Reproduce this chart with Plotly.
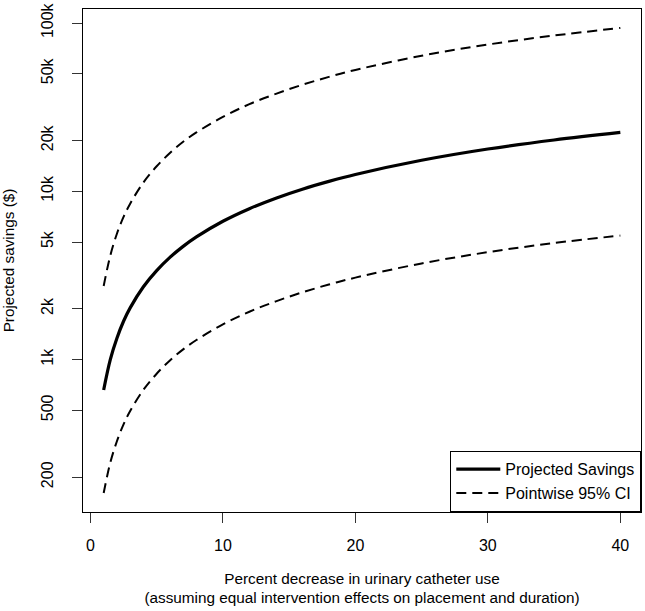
import plotly.graph_objects as go

# Percent decrease in urinary catheter use
pct = [1, 1.5, 2, 2.5, 3, 4, 5, 6, 7, 8, 10, 12, 14, 16, 18, 20, 25, 30, 35, 40]
# Projected savings ($)
savings = [660, 1000, 1340, 1690, 2030, 2710, 3380, 4050, 4710, 5360, 6640, 7890,
           9110, 10300, 11460, 12600, 15300, 17850, 20200, 22400]
# Pointwise 95% CI
ci_upper = [2740, 4150, 5600, 7050, 8450, 11300, 14100, 16900, 19700, 22400, 27700,
            33000, 38000, 43000, 47900, 52700, 64000, 74600, 84400, 93600]
ci_lower = [161, 244, 327, 412, 495, 661, 824, 988, 1150, 1307, 1620, 1925, 2220,
            2510, 2795, 3070, 3730, 4350, 4930, 5460]

y_tickvals = [200, 500, 1000, 2000, 5000, 10000, 20000, 50000, 100000]
y_ticktext = ["200", "500", "1k", "2k", "5k", "10k", "20k", "50k", "100k"]
x_tickvals = [0, 10, 20, 30, 40]

FONT = "Liberation Sans, Arial, Helvetica, sans-serif"

fig = go.Figure()
fig.add_trace(go.Scatter(x=pct, y=savings, mode="lines", name="Projected Savings",
                         line=dict(color="black", width=3.2, shape="spline")))
fig.add_trace(go.Scatter(x=pct, y=ci_upper, mode="lines", name="Pointwise 95% CI",
                         line=dict(color="black", width=2, dash="10px,6px", shape="spline")))
fig.add_trace(go.Scatter(x=pct, y=ci_lower, mode="lines", name="Pointwise 95% CI",
                         showlegend=False,
                         line=dict(color="black", width=2, dash="10px,6px", shape="spline")))

fig.update_layout(
    width=645, height=611,
    margin=dict(l=77, r=3, t=4, b=99, pad=0),
    paper_bgcolor="white", plot_bgcolor="white",
    font=dict(family=FONT, size=16, color="black"),
    showlegend=True,
    legend=dict(x=1, y=0, xanchor="right", yanchor="bottom",
                bordercolor="black", borderwidth=1.3, bgcolor="white",
                font=dict(size=16), itemwidth=44,
                tracegroupgap=0),
    xaxis=dict(
        range=[-0.56, 41.56], tickvals=x_tickvals,
        showgrid=False, zeroline=False,
        showline=True, mirror=True, linecolor="black", linewidth=1.3,
        ticks="outside", ticklen=10, tickwidth=1, tickcolor="#333",
        tickfont=dict(size=16), ticklabelstandoff=9,
        title=dict(text="Percent decrease in urinary catheter use<br>"
                        "(assuming equal intervention effects on placement and duration)",
                   font=dict(size=15.3), standoff=19),
    ),
    yaxis=dict(
        type="log", range=[2.094, 5.084],
        tickvals=y_tickvals, ticktext=y_ticktext, tickangle=-90,
        ticklabeloverflow="allow",
        showgrid=False, zeroline=False,
        showline=True, mirror=True, linecolor="black", linewidth=1.3,
        ticks="outside", ticklen=10, tickwidth=1, tickcolor="#333",
        tickfont=dict(size=16), ticklabelstandoff=12,
        title=dict(text="Projected savings ($)", font=dict(size=15.3), standoff=26),
    ),
)

fig.write_html("out.html",
               config={"displayModeBar": False},
               post_script="document.body.style.margin='0';document.body.style.overflow='hidden';")
